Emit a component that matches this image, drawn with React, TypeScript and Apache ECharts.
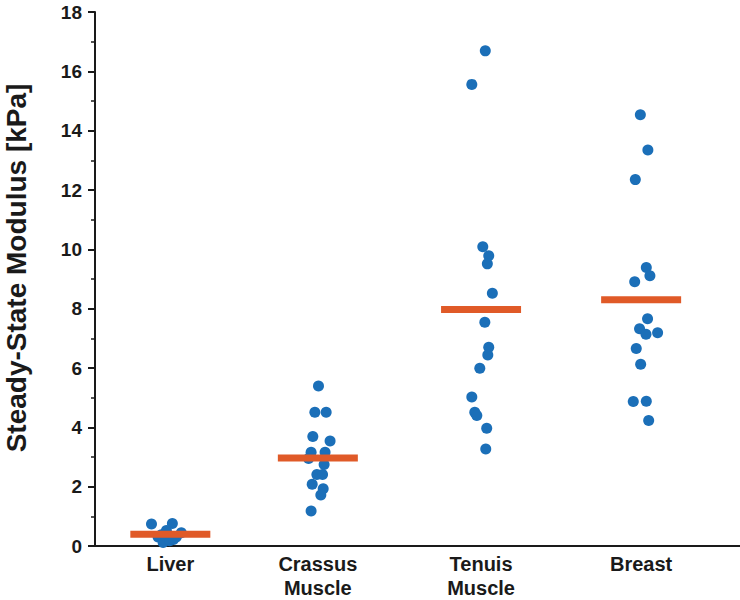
import React, { useEffect, useRef } from "react";
import * as echarts from "echarts";

const categories = ["Liver", "Crassus\nMuscle", "Tenuis\nMuscle", "Breast"];
const categoryPositions = [1, 1.94, 2.98, 4.0];
const means = [0.4, 2.97, 7.97, 8.3];

const liverValues = [0.74, 0.76, 0.52, 0.45, 0.3, 0.12, 0.18, 0.3, 0.38, 0.22];
const liverJitter = [-0.12, 0.013, -0.025, 0.07, -0.078, -0.046, -0.004, 0.038, -0.057, 0.02];

const crassusValues = [5.39, 4.51, 4.51, 3.69, 3.54, 3.16, 3.16, 2.95, 2.75, 2.41, 2.41, 2.08, 1.93, 1.72, 1.18];
const crassusJitter = [0.004, -0.019, 0.053, -0.032, 0.078, -0.043, 0.046, -0.059, 0.04, -0.006, 0.03, -0.036, 0.034, 0.019, -0.043];

const tenuisValues = [16.69, 15.56, 10.09, 9.78, 9.51, 8.52, 7.54, 6.7, 6.44, 5.99, 5.02, 4.51, 4.4, 3.97, 3.27];
const tenuisJitter = [0.027, -0.059, 0.011, 0.049, 0.04, 0.072, 0.024, 0.049, 0.043, -0.008, -0.059, -0.04, -0.027, 0.036, 0.03];

const breastValues = [14.54, 13.35, 12.35, 9.39, 9.11, 8.91, 7.66, 7.32, 7.14, 7.19, 6.66, 6.13, 4.87, 4.88, 4.23];
const breastJitter = [-0.005, 0.043, -0.037, 0.033, 0.056, -0.041, 0.041, -0.01, 0.031, 0.105, -0.031, -0.003, -0.05, 0.033, 0.048];

const yTicks = [0, 2, 4, 6, 8, 10, 12, 14, 16, 18];

const groups = [
  { values: liverValues, jitter: liverJitter },
  { values: crassusValues, jitter: crassusJitter },
  { values: tenuisValues, jitter: tenuisJitter },
  { values: breastValues, jitter: breastJitter },
];

const FONT = "'Liberation Sans', Arial, Helvetica, sans-serif";
const BLUE = "#1b6fb8";
const ORANGE = "#e05a28";
const INK = "#1a1a1a";

export default function App() {
  const ref = useRef<HTMLDivElement>(null);

  useEffect(() => {
    if (!ref.current) return;
    const chart = echarts.init(ref.current, null, { renderer: "svg" });

    const points: number[][] = [];
    groups.forEach((g, i) => {
      g.values.forEach((v, j) => {
        points.push([categoryPositions[i] + g.jitter[j], v]);
      });
    });
    const meanData = means.map((m, i) => [categoryPositions[i], m]);

    chart.setOption({
      animation: false,
      backgroundColor: "#ffffff",
      grid: { left: 95, right: 0, top: 12, bottom: 54, containLabel: false, outerBoundsMode: "none" },
      xAxis: {
        type: "value",
        min: 0.52,
        max: 4.63,
        splitLine: { show: false },
        axisTick: { show: false },
        axisLine: { show: true, onZero: false, lineStyle: { color: INK, width: 2 } },
        axisLabel: {
          customValues: categoryPositions,
          formatter: (val: number) => {
            let best = 0;
            categoryPositions.forEach((p, i) => {
              if (Math.abs(p - val) < Math.abs(categoryPositions[best] - val)) best = i;
            });
            return categories[best];
          },
          color: INK,
          fontFamily: FONT,
          fontWeight: "bold",
          fontSize: 20,
          lineHeight: 24,
          margin: 6,
        },
      },
      yAxis: {
        type: "value",
        min: 0,
        max: 18,
        interval: 2,
        name: "Steady-State Modulus [kPa]",
        nameLocation: "middle",
        nameGap: 65,
        nameTextStyle: {
          color: INK,
          fontFamily: FONT,
          fontWeight: "bold",
          fontSize: 28,
          lineHeight: 28,
          padding: [0, 0, 0, 22],
        },
        splitLine: { show: false },
        axisLine: { show: true, lineStyle: { color: INK, width: 2 } },
        axisTick: { show: true, length: 7, lineStyle: { color: INK, width: 2 } },
        minorTick: { show: true, splitNumber: 2, length: 4, lineStyle: { color: INK, width: 1.5 } },
        axisLabel: {
          customValues: yTicks,
          color: INK,
          fontFamily: FONT,
          fontWeight: "bold",
          fontSize: 19,
          margin: 13,
        },
      },
      series: [
        {
          type: "scatter",
          data: points,
          symbol: "circle",
          symbolSize: 11,
          itemStyle: { color: BLUE, opacity: 1 },
          z: 2,
        },
        {
          type: "scatter",
          data: meanData,
          symbol: "rect",
          symbolSize: [80, 7],
          itemStyle: { color: ORANGE, opacity: 1 },
          z: 3,
        },
      ],
    });

    return () => chart.dispose();
  }, []);

  return (
    <div
      ref={ref}
      style={{ position: "fixed", left: 0, top: 0, width: 740, height: 600, background: "#fff" }}
    />
  );
}
